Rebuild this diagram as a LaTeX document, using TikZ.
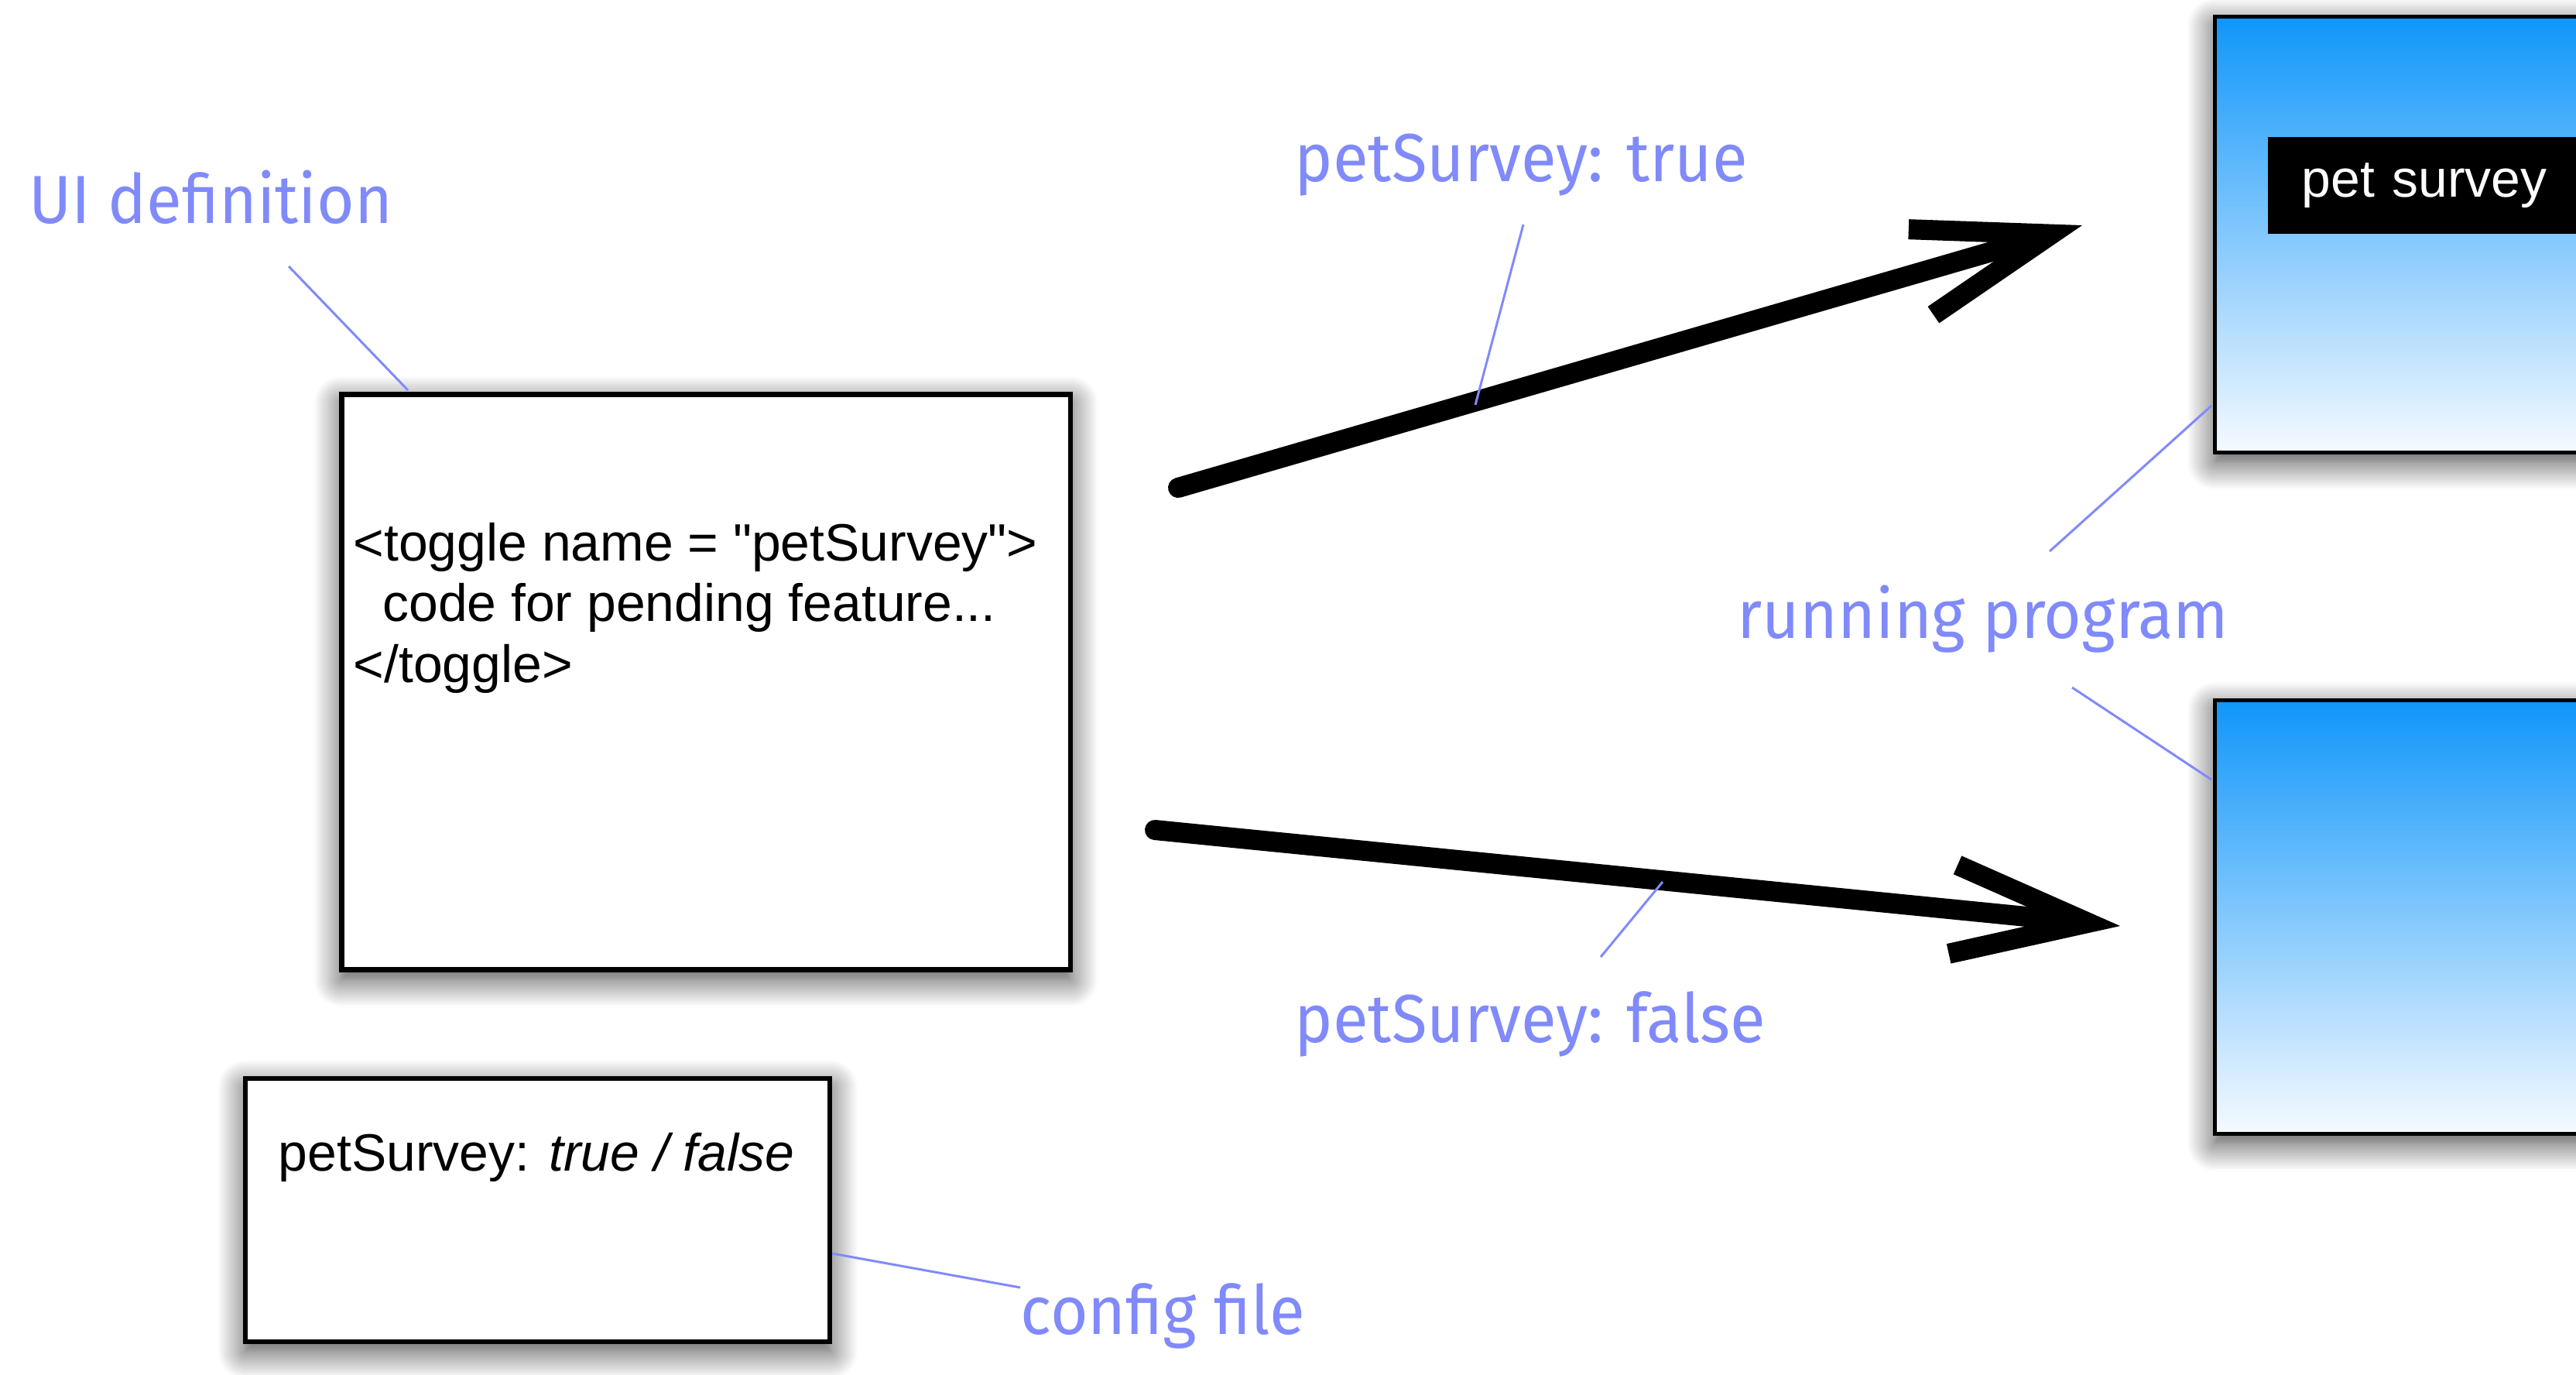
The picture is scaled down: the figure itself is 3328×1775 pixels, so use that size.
\documentclass[tikz,border=0pt]{standalone}
\usepackage{fontspec}
\setmainfont{Liberation Sans}
\newfontfamily\handfont[FakeStretch=0.95]{Fira Sans}
\usetikzlibrary{arrows.meta,shadows.blur}
\definecolor{note}{RGB}{128,138,250}
\definecolor{screentop}{RGB}{16,150,250}
\definecolor{screenbot}{RGB}{246,250,255}

\begin{document}
\begin{tikzpicture}[x=0.01cm,y=-0.01cm,
  card/.style={rectangle, draw=black, fill=white, line width=0.065cm,
    inner sep=0pt, anchor=north west,
    blur shadow={shadow xshift=0pt, shadow yshift=-0.12cm,
      shadow blur radius=0.36cm, shadow blur steps=14, shadow opacity=75}},
  screen/.style={card, line width=0.05cm, top color=screentop, bottom color=screenbot},
  code/.style={font=\fontsize{19.3pt}{22.2pt}\selectfont, inner sep=0pt, align=left},
  hand/.style={font=\handfont\fontsize{25pt}{28pt}\selectfont, text=note,
    inner sep=0pt, anchor=base west},
  leader/.style={draw=note, line width=0.03cm},
  flow/.style={line width=0.26cm, line cap=round,
    -{Straight Barb[length=1.75cm,width=1.15cm]}}
]
\useasboundingbox (0,0) rectangle (3328,1775);
\begin{scope}
\clip (0,0) rectangle (3328,1775);

% source definition and configuration
\node[card, minimum width=9.41cm, minimum height=7.43cm] (ui) at (438,506) {};
\node[code, anchor=base west] (uitext) at (456,881)
  {<toggle name = \textquotedbl petSurvey\textquotedbl>\\\ \ code for pending feature...\\</toggle>};

\node[card, line width=0.06cm, minimum width=7.55cm, minimum height=3.40cm] (cfg) at (314,1390) {};
\node[code, anchor=base west] (cfgtext) at (359,1512) {petSurvey: \textit{true / false}};

% the two running screens
\node[screen, minimum width=7cm, minimum height=5.63cm] (appon) at (2859,19) {};
\node[rectangle, fill=black, text=white, anchor=north west, inner xsep=0.44cm,
  inner ysep=0pt, text width=4.5cm, minimum height=1.25cm, align=left,
  font=\fontsize{19.3pt}{22pt}\selectfont] (tag) at (2929,176) {pet survey};
\node[screen, minimum width=7cm, minimum height=5.60cm] (appoff) at (2859,902) {};

% flow arrows
\coordinate (on0) at (1522,630);
\coordinate (on1) at (2690,291);
\coordinate (off0) at (1492,1072);
\coordinate (off1) at (2739,1196);
\draw[flow] (on0) -- (on1);
\draw[flow] (off0) -- (off1);

% handwritten notes
\node[hand] (nui) at (37,288) {UI definition};
\node[hand] (ntrue) at (1672,234) {petSurvey: true};
\node[hand] (nfalse) at (1672,1346) {petSurvey: false};
\node[hand] (nrun) at (2244,824) {running program};
\node[hand] (ncfg) at (1318,1723) {config file};

\coordinate (lui0) at (373,344);   \coordinate (lui1) at (527,504);
\coordinate (lt0) at (1968,290);   \coordinate (lt1) at (1906,523);
\coordinate (lf0) at (2068,1236);  \coordinate (lf1) at (2148,1139);
\coordinate (lr0) at (2648,712);   \coordinate (lr1) at (2857,524);
\coordinate (lr2) at (2677,888);   \coordinate (lr3) at (2857,1007);
\coordinate (lc0) at (1075,1619);  \coordinate (lc1) at (1318,1663);
\draw[leader] (lui0) -- (lui1);
\draw[leader] (lt0) -- (lt1);
\draw[leader] (lf0) -- (lf1);
\draw[leader] (lr0) -- (lr1);
\draw[leader] (lr2) -- (lr3);
\draw[leader] (lc0) -- (lc1);
\end{scope}
\end{tikzpicture}
\end{document}
